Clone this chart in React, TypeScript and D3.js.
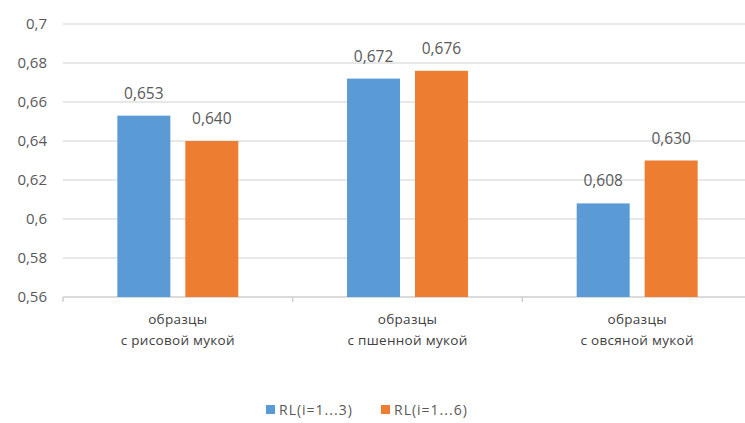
import { useEffect, useRef } from "react";
import * as d3 from "d3";

const categories = [["образцы", "с рисовой мукой"], ["образцы", "с пшенной мукой"], ["образцы", "с овсяной мукой"]];
const seriesNames = ["RL(i=1...3)", "RL(i=1...6)"];
const rl3 = [0.653, 0.672, 0.608];
const rl6 = [0.64, 0.676, 0.63];
const yTicks = [0.56, 0.58, 0.6, 0.62, 0.64, 0.66, 0.68, 0.7];
const colors = ["#5b9bd5", "#ed7d31"];

export default function App() {
  const ref = useRef<SVGSVGElement>(null);
  useEffect(() => {
    if (!ref.current) return;
    const svg = d3.select(ref.current);
    svg.selectAll("*").remove();
    const w = 745;
    const h = 423;
    const m = { t: 24, r: -7, b: 126, l: 63 };
    const font = "'Open Sans', 'DejaVu Sans', sans-serif";
    const grey = "#595959";

    svg.append("rect").attr("width", w).attr("height", h).attr("fill", "#fff");

    const x0 = d3.scaleBand<number>()
      .domain(categories.map((_, i) => i))
      .range([m.l, w - m.r]);
    const x1 = d3.scaleBand<number>()
      .domain([0, 1])
      .range([0, x0.bandwidth()])
      .paddingInner(0.22)
      .paddingOuter(0.8);
    const y = d3.scaleLinear().domain([0.56, 0.7]).range([h - m.b, m.t]);

    // grid
    svg.append("g")
      .selectAll("line")
      .data(yTicks)
      .join("line")
      .attr("x1", m.l).attr("x2", w)
      .attr("y1", (d) => y(d)).attr("y2", (d) => y(d))
      .attr("stroke", (d) => (d === 0.56 ? "#cfcfcf" : "#e0e0e0"))
      .attr("stroke-width", 1.5);

    // category ticks
    svg.append("g")
      .selectAll("line")
      .data(categories.map((_, i) => i))
      .join("line")
      .attr("x1", (d) => x0(d)!).attr("x2", (d) => x0(d)!)
      .attr("y1", y(0.56)).attr("y2", y(0.56) + 5)
      .attr("stroke", "#cfcfcf").attr("stroke-width", 1.5);

    // y labels
    svg.append("g")
      .selectAll("text")
      .data(yTicks)
      .join("text")
      .attr("x", 47).attr("y", (d) => y(d))
      .attr("dy", "0.35em")
      .attr("text-anchor", "end")
      .attr("font-family", font).attr("font-size", 15).attr("fill", grey)
      .text((d) => String(+d.toFixed(2)).replace(".", ","));

    const series = [rl3, rl6];
    series.forEach((vals, s) => {
      const g = svg.append("g");
      g.selectAll("rect")
        .data(vals)
        .join("rect")
        .attr("x", (_, i) => x0(i)! + x1(s)!)
        .attr("width", x1.bandwidth())
        .attr("y", (d) => y(d))
        .attr("height", (d) => y(0.56) - y(d))
        .attr("fill", colors[s]);
      g.selectAll("text")
        .data(vals)
        .join("text")
        .attr("x", (_, i) => x0(i)! + x1(s)! + x1.bandwidth() / 2)
        .attr("y", (d) => y(d) - 17)
        .attr("text-anchor", "middle")
        .attr("font-family", font).attr("font-size", 15.5).attr("fill", grey)
        .text((d) => d.toFixed(3).replace(".", ","));
    });

    // category labels
    categories.forEach((lines, i) => {
      const cx = x0(i)! + x0.bandwidth() / 2;
      lines.forEach((line, k) => {
        svg.append("text")
          .attr("x", cx).attr("y", y(0.56) + 27 + k * 21)
          .attr("text-anchor", "middle")
          .attr("font-family", font).attr("font-size", 13.5).attr("fill", "#404040")
          .attr("letter-spacing", 0.3)
          .text(line);
      });
    });

    // legend
    const legendX = [266, 381];
    seriesNames.forEach((name, s) => {
      svg.append("rect")
        .attr("x", legendX[s]).attr("y", 405)
        .attr("width", 9).attr("height", 9)
        .attr("fill", colors[s]);
      svg.append("text")
        .attr("x", legendX[s] + 13).attr("y", 415)
        .attr("font-family", font).attr("font-size", 14).attr("fill", grey)
        .attr("letter-spacing", 1)
        .text(name);
    });
  }, []);
  return <svg ref={ref} width={745} height={423} style={{ position: "absolute", left: 0, top: 0 }} />;
}
